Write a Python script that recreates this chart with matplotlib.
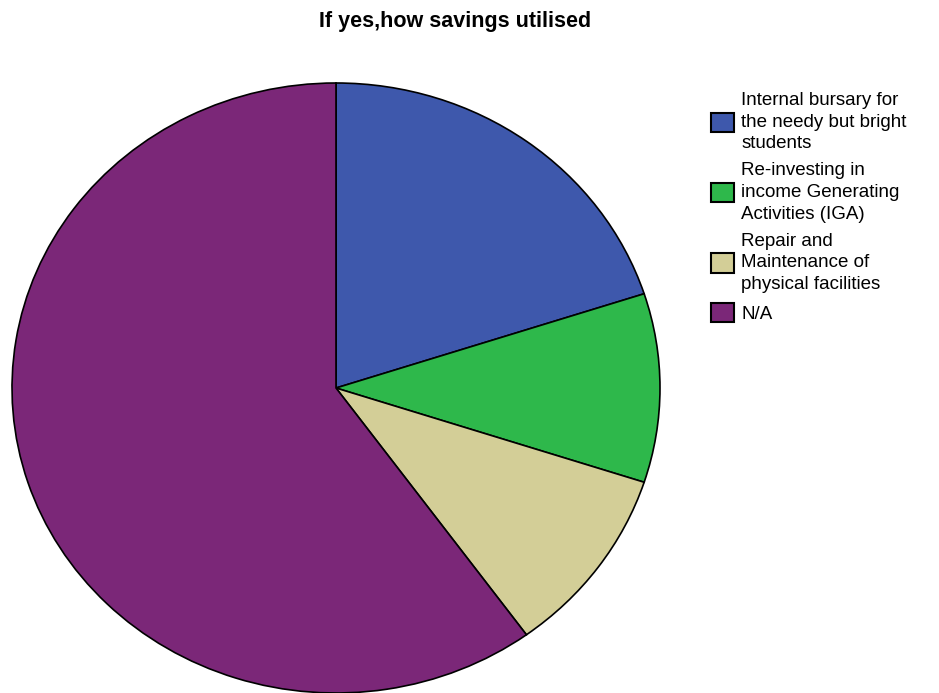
import matplotlib.pyplot as plt

plt.rcParams['font.family'] = ['Liberation Sans', 'DejaVu Sans']

labels = ['Internal bursary for\nthe needy but bright\nstudents',
          'Re-investing in\nincome Generating\nActivities (IGA)',
          'Repair and\nMaintenance of\nphysical facilities',
          'N/A']
values = [20, 10, 10, 60]
colors = ['#3e58ac', '#2eb84b', '#d3ce97', '#7b2778']

fig = plt.figure(figsize=(9.39, 6.93), dpi=100)
ax = fig.add_axes([12/939, 0.0, 648/939, 610/693])

wedges, _ = ax.pie(values, colors=colors, startangle=90, counterclock=False,
                   wedgeprops=dict(edgecolor='black', linewidth=1.2))
ax.set_aspect('auto')
ax.set_xlim(-1, 1)
ax.set_ylim(-1, 1)
for w in wedges:
    w.set_clip_on(False)

fig.text(455/939, 1 - 21/693, 'If yes,how savings utilised', ha='center', va='center',
         fontsize=15.5, fontweight='bold')

leg = fig.legend(wedges, labels, loc='upper left', bbox_to_anchor=(711/939, 1 - 92/693),
                 frameon=False, fontsize=13.5, handlelength=1.2, handleheight=1.2,
                 handletextpad=0.42, labelspacing=0.55, borderaxespad=0, borderpad=0)
for t in leg.get_texts():
    t.set_linespacing(1.35)
for h in leg.legend_handles:
    h.set_edgecolor('black')
    h.set_linewidth(1.5)

fig.savefig('out.png', dpi=100)
